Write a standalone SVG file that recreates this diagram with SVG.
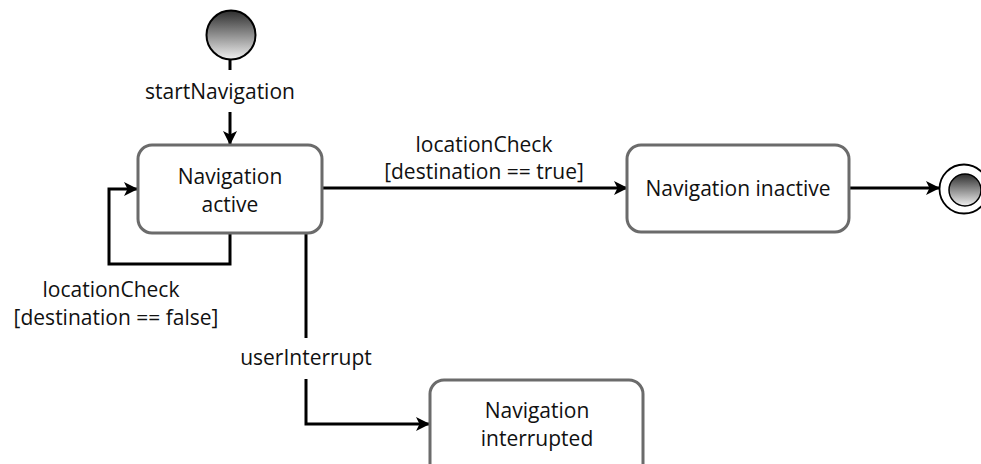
<svg xmlns="http://www.w3.org/2000/svg" width="981" height="464" viewBox="0 0 981 464">
<defs>
<linearGradient id="g" x1="0" y1="0" x2="0" y2="1">
<stop offset="0" stop-color="#2e2e2e"/>
<stop offset="1" stop-color="#f0f0f0"/>
</linearGradient>
<marker id="arr" viewBox="0 0 14 14" refX="13" refY="7" markerWidth="14" markerHeight="14" markerUnits="userSpaceOnUse" orient="auto">
<path d="M0,0 L14,7 L0,14 L3.5,7 Z" fill="#000"/>
</marker>
<style>
.st{fill:#fff;stroke:#6b6b6b;stroke-width:3}
.c{fill:none;stroke:#000;stroke-width:3}
text{font-family:"Open Sans","Liberation Sans",sans-serif;font-size:21px;fill:#111;text-anchor:middle}
</style>
</defs>
<rect width="981" height="464" fill="#fff"/>
<g id="connectors">
<path class="c" d="M230,59 V70"/>
<path class="c" d="M230,112 V144" marker-end="url(#arr)"/>
<path class="c" d="M230,233 V264 H109 V189 H137" marker-end="url(#arr)"/>
<path class="c" d="M322,188 H627" marker-end="url(#arr)"/>
<path class="c" d="M849,188 H939" marker-end="url(#arr)"/>
<path class="c" d="M306,233 V338"/>
<path class="c" d="M306,379 V424 H429" marker-end="url(#arr)"/>
<text x="220" y="99">startNavigation</text>
<text x="484" y="152">locationCheck</text>
<text x="484" y="179">[destination == true]</text>
<text x="111" y="297">locationCheck</text>
<text x="116" y="325">[destination == false]</text>
<text x="306" y="365">userInterrupt</text>
</g>
<g id="start">
<circle cx="231" cy="35" r="24.5" fill="url(#g)" stroke="#000" stroke-width="2"/>
</g>
<g id="active">
<rect class="st" x="138" y="145" width="184" height="88" rx="14"/>
<text x="230" y="184">Navigation</text>
<text x="230" y="212">active</text>
</g>
<g id="inactive">
<rect class="st" x="627" y="145" width="222" height="87" rx="14"/>
<text x="738" y="196">Navigation inactive</text>
</g>
<g id="interrupted">
<rect class="st" x="430" y="380" width="213" height="100" rx="14"/>
<text x="537" y="418">Navigation</text>
<text x="537" y="446">interrupted</text>
</g>
<g id="final">
<circle cx="964" cy="189" r="24.5" fill="#fff" stroke="#000" stroke-width="1.8"/>
<circle cx="965" cy="190" r="16" fill="url(#g)" stroke="#000" stroke-width="1.5"/>
</g>
</svg>
